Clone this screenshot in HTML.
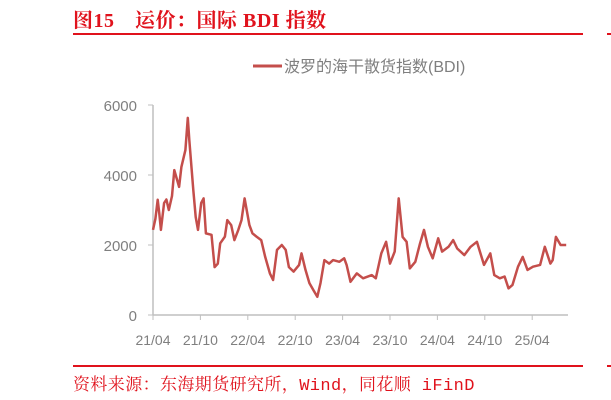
<!DOCTYPE html>
<html><head><meta charset="utf-8"><style>
body{margin:0;background:#fff;width:611px;height:400px;overflow:hidden;position:relative;font-family:"Liberation Sans","Noto Sans CJK SC",sans-serif}
.t{position:absolute;left:73px;top:4px;color:#e0121c;font:bold 20px "Liberation Serif","Noto Serif CJK SC",serif;letter-spacing:0.5px}
.src{position:absolute;left:73px;top:370px;color:#e0121c;font:17px "Liberation Mono","Noto Serif CJK SC",serif;letter-spacing:0.4px}
</style></head><body>
<div class="t">图15　运价：国际 BDI 指数</div>
<div style="position:absolute;left:73px;top:33px;width:510px;height:2px;background:#e0121c"></div>
<div style="position:absolute;left:607px;top:33px;width:4px;height:2px;background:#e0121c"></div>
<svg id="c" width="611" height="400" style="position:absolute;left:0;top:0"></svg>
<div style="position:absolute;left:73px;top:365px;width:510px;height:2px;background:#e0121c"></div>
<div style="position:absolute;left:607px;top:365px;width:4px;height:2px;background:#e0121c"></div>
<div class="src">资料来源：东海期货研究所，Wind，同花顺 iFinD</div>
<script>
const months=[0,0.3,0.6,0.8,1.0,1.4,1.7,2.0,2.4,2.7,3.3,3.6,4.1,4.4,4.6,5.1,5.4,5.7,6.1,6.4,6.7,7.4,7.8,8.2,8.5,9.1,9.4,9.9,10.3,10.8,11.2,11.6,12.2,12.6,13.1,13.7,14.2,14.8,15.2,15.7,16.3,16.8,17.2,17.8,18.5,18.8,19.3,19.8,20.3,20.8,21.2,21.7,22.3,22.8,23.6,24.2,24.5,25.0,25.8,26.6,27.7,28.2,28.9,29.5,30.0,30.6,31.1,31.6,32.1,32.5,33.2,33.8,34.3,34.8,35.4,36.1,36.6,37.4,38.0,38.5,39.4,40.2,41.0,41.9,42.7,43.2,43.9,44.5,45.0,45.5,46.2,46.8,47.4,48.1,49.0,49.6,50.3,50.6,51.0,51.6,52.3];
const bdi=[2430,2750,3290,2900,2430,3200,3300,3000,3400,4140,3660,4230,4710,5630,5000,3570,2800,2430,3200,3330,2330,2290,1370,1470,2050,2240,2710,2570,2140,2430,2710,3330,2570,2330,2240,2140,1660,1190,1000,1860,2000,1860,1370,1240,1430,1760,1290,910,710,520,910,1570,1470,1570,1520,1620,1430,950,1190,1050,1140,1050,1760,2090,1470,1810,3330,2230,2090,1330,1520,2040,2430,1950,1620,2190,1810,1950,2140,1900,1710,1950,2090,1430,1760,1140,1050,1100,760,860,1380,1660,1290,1380,1430,1950,1470,1570,2230,2000,2000];
const yTicks=[0,2000,4000,6000];
const xTicks=["21/04","21/10","22/04","22/10","23/04","23/10","24/04","24/10","25/04"];
const X0=153,X1=568,PX=7.9,Y0=315,SY=0.035;
const x=m=>X0+m*PX, y=v=>Y0-v*SY;
const svg=document.getElementById('c'),NS='http://www.w3.org/2000/svg';
function mk(t,a,txt){const e=document.createElementNS(NS,t);for(const k in a)e.setAttribute(k,a[k]);if(txt!=null)e.textContent=txt;svg.appendChild(e);return e;}
let e=mk('line',{x1:X0,y1:y(6000),x2:X0,y2:Y0,stroke:'#bfbfbf','stroke-width':1.5});

e=mk('line',{x1:X0,y1:Y0,x2:X1,y2:Y0,stroke:'#bfbfbf','stroke-width':1.5});

yTicks.forEach(v=>{
 let t=mk('line',{x1:X0-5,y1:y(v),x2:X0,y2:y(v),stroke:'#bfbfbf'});
 
 let l=mk('text',{x:X0-16,y:y(v)+6,'text-anchor':'end','font-size':15,fill:'#7f7f7f'},v);
 
});
xTicks.forEach((s,i)=>{
 const xx=x(i*6);
 let t=mk('line',{x1:xx,y1:Y0,x2:xx,y2:Y0+5,stroke:'#bfbfbf'});
 
 let l=mk('text',{x:xx,y:Y0+30,'text-anchor':'middle','font-size':14,fill:'#7f7f7f'},s);
 
});
const pts=months.map((m,i)=>x(m).toFixed(1)+','+y(bdi[i]).toFixed(1)).join(' ');
e=mk('polyline',{points:pts,fill:'none',stroke:'#c44e4b','stroke-width':2.5,'stroke-linejoin':'round'});

e=mk('line',{x1:253,y1:66,x2:282,y2:66,stroke:'#c44e4b','stroke-width':3});

e=mk('text',{x:284,y:72,'font-size':16,fill:'#7f7f7f'},'波罗的海干散货指数(BDI)');

</script>
</body></html>
